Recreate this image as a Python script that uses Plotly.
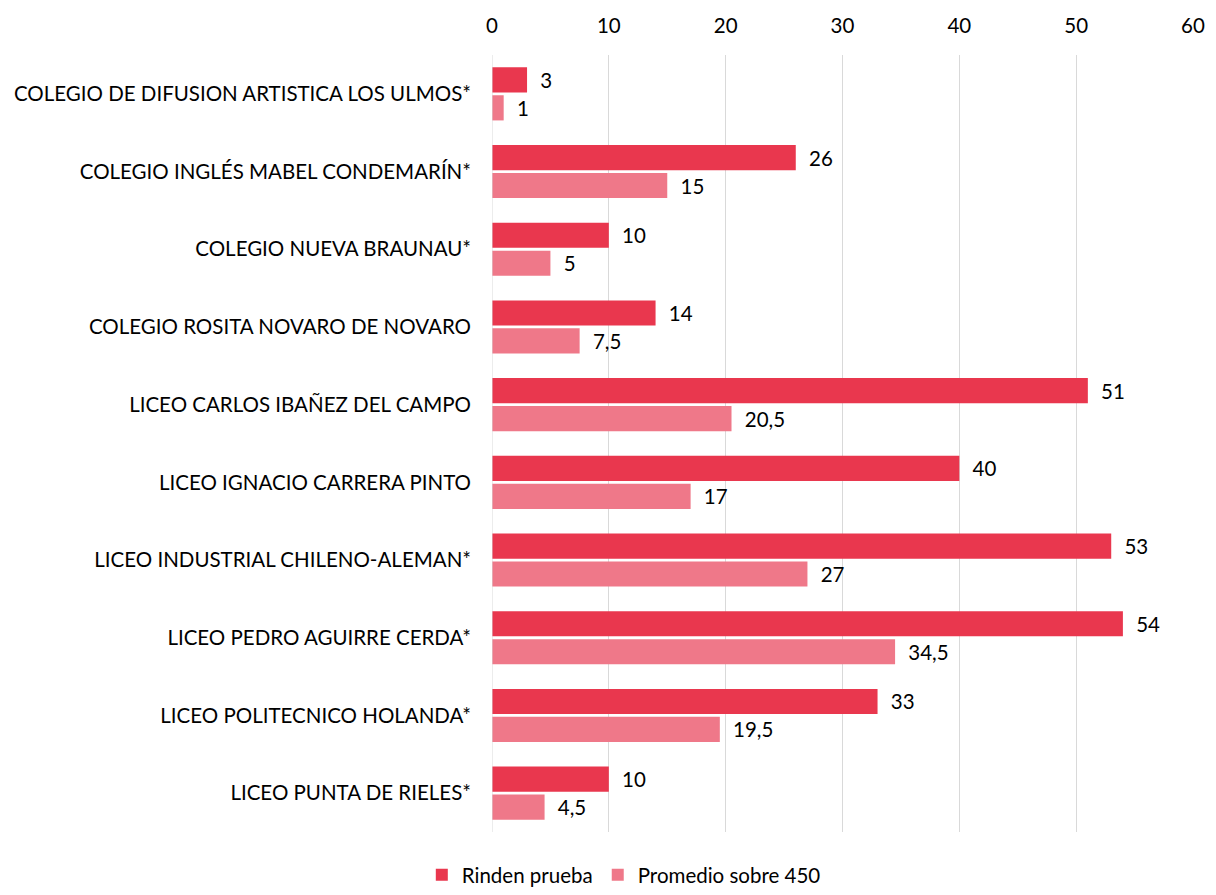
import plotly.graph_objects as go

categories = [
    "COLEGIO DE DIFUSION ARTISTICA LOS ULMOS*",
    "COLEGIO INGLÉS MABEL CONDEMARÍN*",
    "COLEGIO NUEVA BRAUNAU*",
    "COLEGIO ROSITA NOVARO DE NOVARO",
    "LICEO CARLOS IBAÑEZ DEL CAMPO",
    "LICEO IGNACIO CARRERA PINTO",
    "LICEO INDUSTRIAL CHILENO-ALEMAN*",
    "LICEO PEDRO AGUIRRE CERDA*",
    "LICEO POLITECNICO HOLANDA*",
    "LICEO PUNTA DE RIELES*",
]
rinden = [3, 26, 10, 14, 51, 40, 53, 54, 33, 10]
promedio = [1, 15, 5, 7.5, 20.5, 17, 27, 34.5, 19.5, 4.5]
tick_vals = [0, 10, 20, 30, 40, 50, 60]


def fmt(v):
    return "\u2002" + ("%g" % v).replace(".", ",")


FONT = "Lato, 'Open Sans', sans-serif"
FS = 20.5

fig = go.Figure()
fig.add_trace(go.Bar(
    y=categories, x=rinden, orientation="h", name="Rinden prueba",
    marker=dict(color="#E9374E", line=dict(width=0)),
    text=[fmt(v) for v in rinden], textposition="outside",
    textfont=dict(size=FS, color="#000000", family=FONT),
    cliponaxis=False,
))
fig.add_trace(go.Bar(
    y=categories, x=promedio, orientation="h", name="Promedio sobre 450",
    marker=dict(color="#EF7889", line=dict(width=0)),
    text=[fmt(v) for v in promedio], textposition="outside",
    textfont=dict(size=FS, color="#000000", family=FONT),
    cliponaxis=False,
))

fig.update_layout(
    width=1216, height=895,
    barmode="group", bargap=0.28, bargroupgap=0.1,
    plot_bgcolor="white", paper_bgcolor="white",
    margin=dict(l=492, r=23, t=55, b=63, autoexpand=False),
    font=dict(family=FONT, size=FS, color="#000000"),
    xaxis=dict(
        side="top", range=[0, 60], tickvals=tick_vals,
        showgrid=True, gridcolor="#D9D9D9", gridwidth=1,
        zeroline=False, showline=False, ticklabeloverflow="allow",
        tickfont=dict(size=FS, family=FONT), ticks="", ticklabelstandoff=17,
    ),
    yaxis=dict(
        autorange="reversed", showgrid=False, zeroline=False, showline=False,
        tickfont=dict(size=FS, family=FONT), ticks="", ticklabelstandoff=20,
    ),
    legend=dict(
        orientation="h", xref="container", yref="container",
        x=0.513, xanchor="center", y=-0.012, yanchor="bottom",
        font=dict(size=FS, family=FONT), traceorder="normal",
    ),
    showlegend=True,
)
fig.add_vline(x=0, line_color="#D9D9D9", line_width=1)

fig.write_html(
    "out.html",
    config={"displayModeBar": False},
    post_script="document.body.style.margin='0';document.body.style.overflow='hidden';",
)
